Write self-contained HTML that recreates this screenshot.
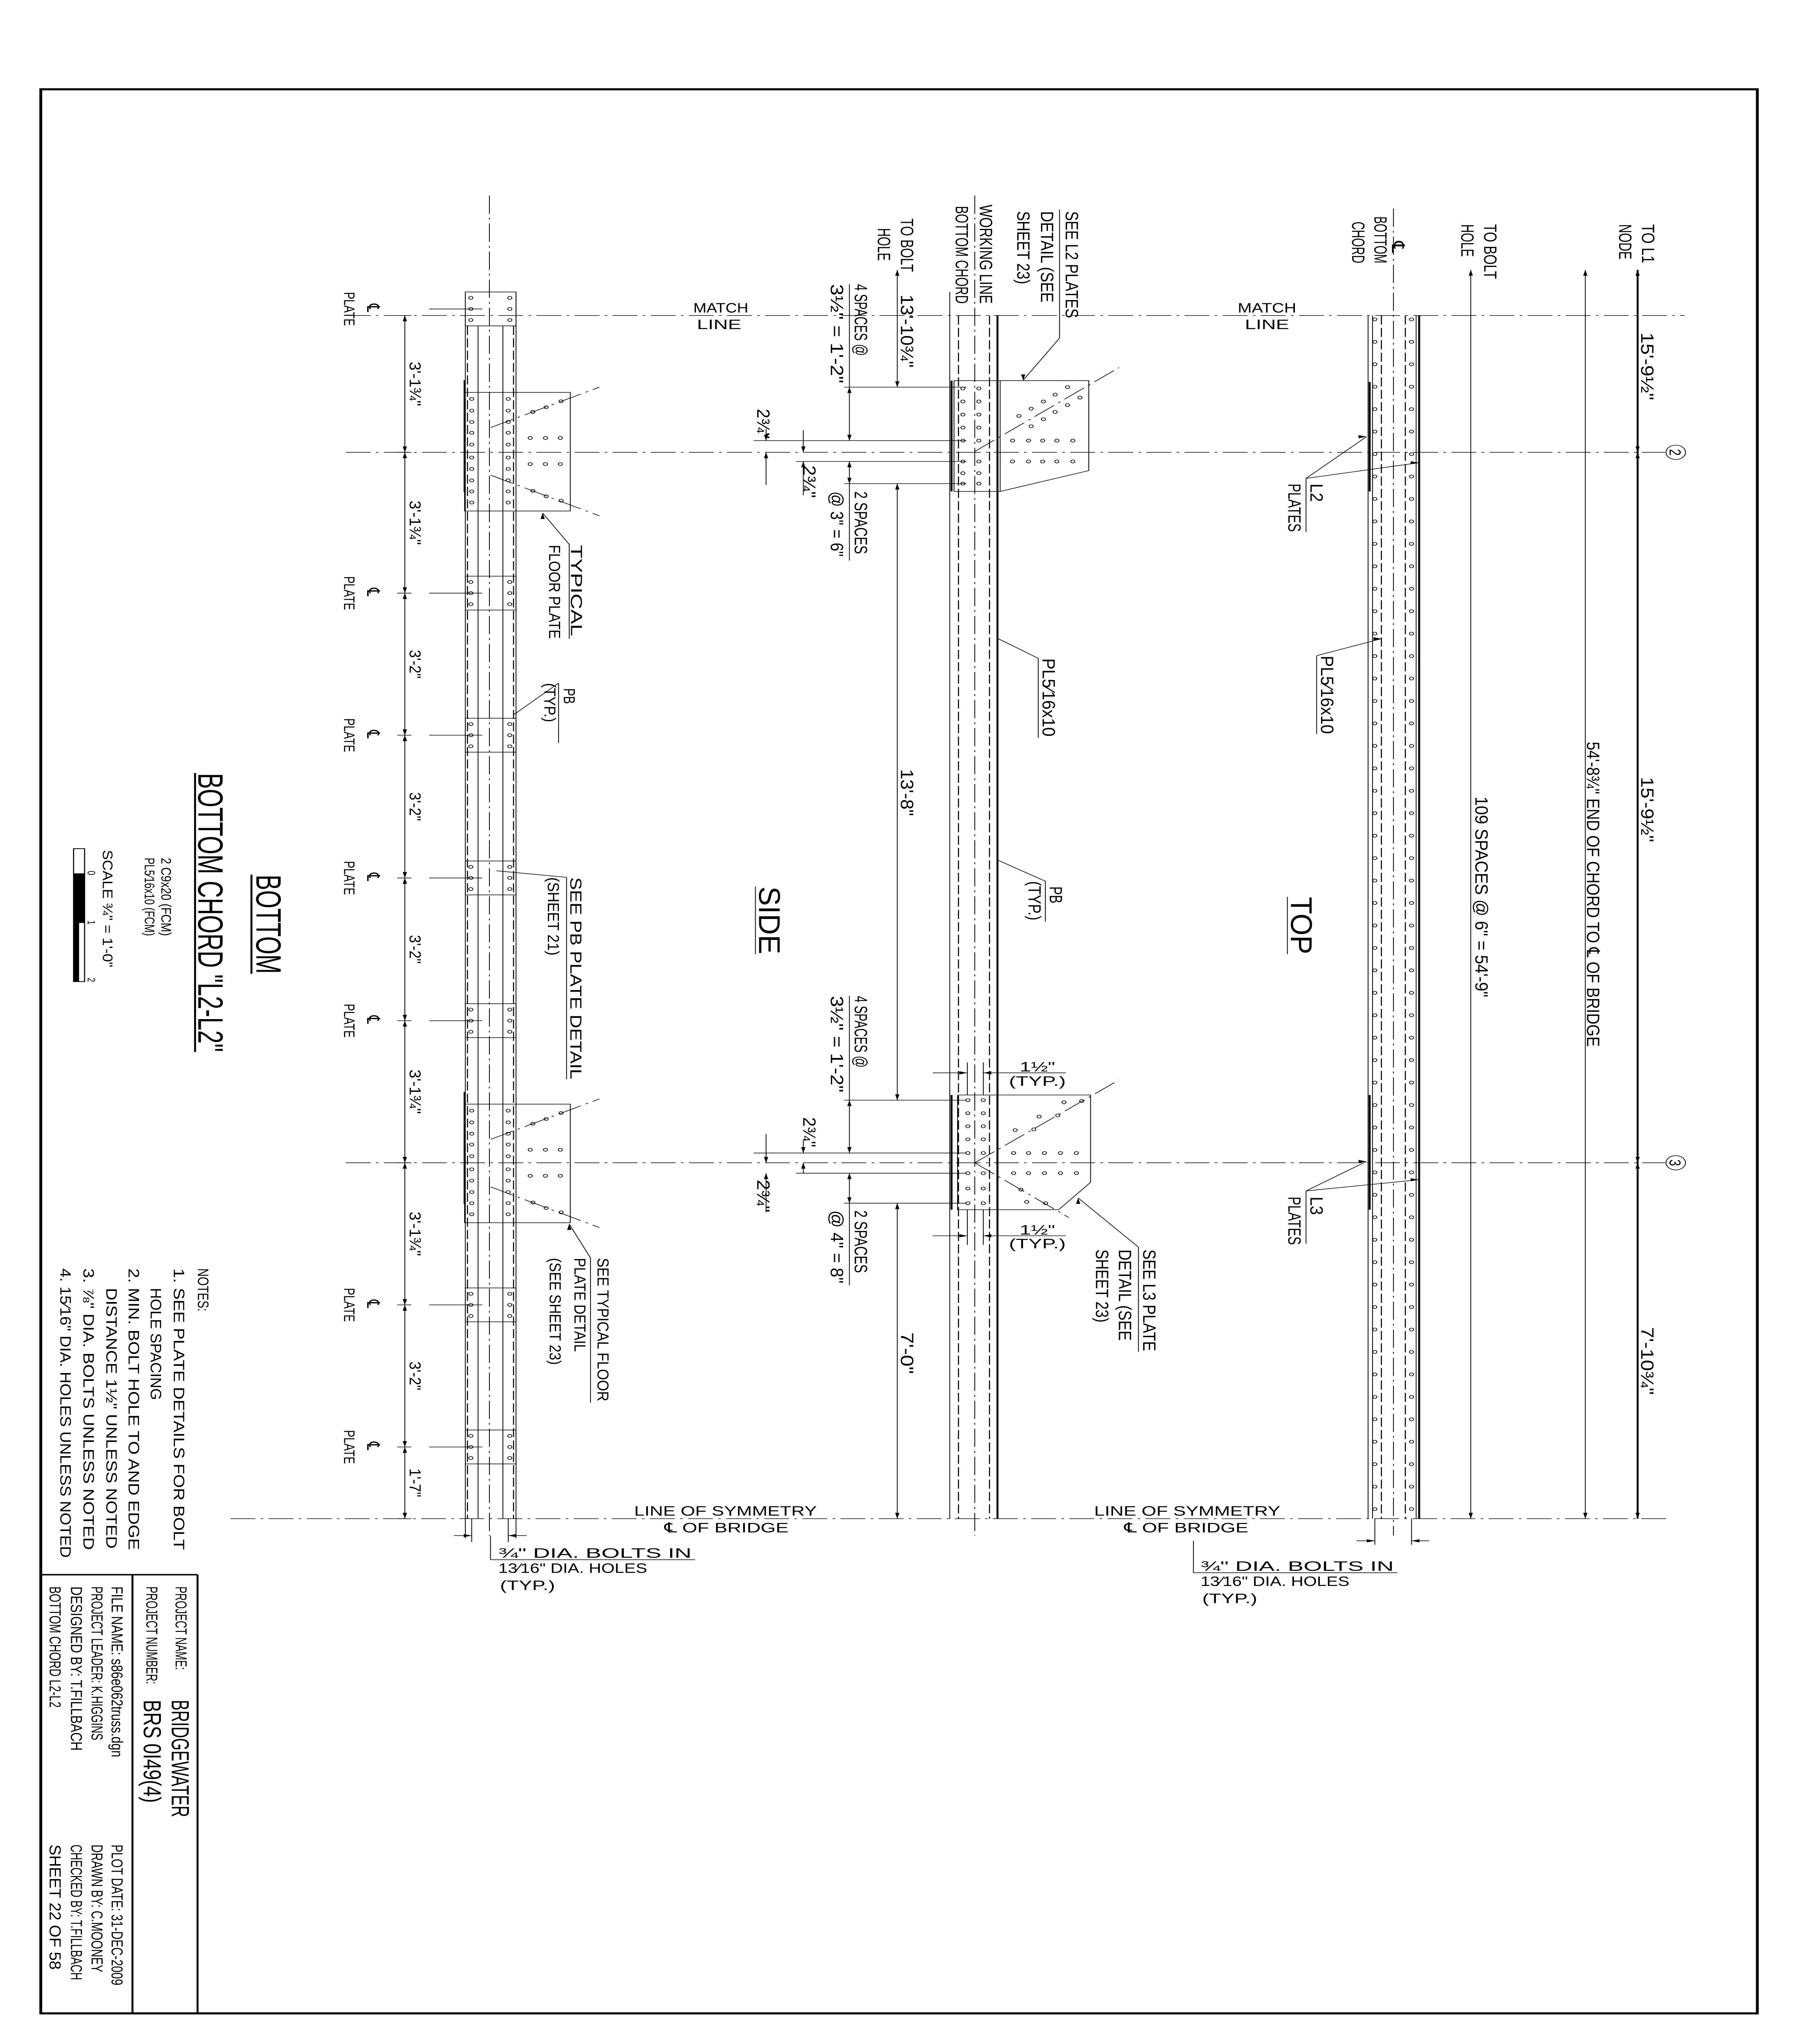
<!DOCTYPE html>
<html><head><meta charset="utf-8"><style>
html,body{margin:0;padding:0;background:#fff;width:100vw;height:100vh;overflow:hidden;}
svg{display:block;position:absolute;left:0;top:0;width:100vw;height:100vh;}
text{font-family:"Liberation Sans","DejaVu Sans",sans-serif;fill:#000;}
.s{stroke:#000;fill:none;stroke-width:0.45;}
.t{stroke:#000;fill:none;stroke-width:1.1;}
.dd{stroke:#000;fill:none;stroke-width:0.45;stroke-dasharray:14 3 1.5 3;}
.da{stroke:#000;fill:none;stroke-width:0.6;stroke-dasharray:7 2.5;}
.h{stroke:#000;fill:none;stroke-width:0.45;}
</style></head><body>
<svg id="d" viewBox="0 0 1014.5 1568" preserveAspectRatio="none" xmlns="http://www.w3.org/2000/svg">
<rect x="0" y="0" width="1014.5" height="1568" fill="#fff"/>
<rect x="23" y="68.5" width="968" height="1476" fill="none" stroke="#000" stroke-width="1.6"/>
<line x1="23" y1="1208" x2="111.4" y2="1208" class="t"/>
<line x1="111.4" y1="1208" x2="111.4" y2="1544.5" class="t"/>
<line x1="74.7" y1="1208" x2="74.7" y2="1544.5" class="t"/>
<g id="g"></g>

<g font-size="9">
<text transform="translate(99 1217) rotate(90)" textLength="64" lengthAdjust="spacingAndGlyphs">PROJECT NAME:</text>
<text transform="translate(96.8 1304) rotate(90)" font-size="14" textLength="90" lengthAdjust="spacingAndGlyphs">BRIDGEWATER</text>
<text transform="translate(82.5 1217) rotate(90)" textLength="75" lengthAdjust="spacingAndGlyphs">PROJECT NUMBER:</text>
<text transform="translate(81 1304) rotate(90)" font-size="14" textLength="79" lengthAdjust="spacingAndGlyphs">BRS 0I49(4)</text>
<text transform="translate(63 1217) rotate(90)" textLength="131" lengthAdjust="spacingAndGlyphs">FILE NAME: s86e062truss.dgn</text>
<text transform="translate(51.6 1217) rotate(90)" textLength="118" lengthAdjust="spacingAndGlyphs">PROJECT LEADER: K.HIGGINS</text>
<text transform="translate(40 1217) rotate(90)" textLength="126" lengthAdjust="spacingAndGlyphs">DESIGNED BY:    T.FILLBACH</text>
<text transform="translate(28 1217) rotate(90)" textLength="93" lengthAdjust="spacingAndGlyphs">BOTTOM CHORD L2-L2</text>
<text transform="translate(63 1415) rotate(90)" textLength="108" lengthAdjust="spacingAndGlyphs">PLOT DATE: 31-DEC-2009</text>
<text transform="translate(51.6 1415) rotate(90)" textLength="98" lengthAdjust="spacingAndGlyphs">DRAWN BY:  C.MOONEY</text>
<text transform="translate(40 1415) rotate(90)" textLength="104" lengthAdjust="spacingAndGlyphs">CHECKED BY: T.FILLBACH</text>
<text transform="translate(28 1415) rotate(90)" textLength="96" lengthAdjust="spacingAndGlyphs">SHEET    22    OF    58</text>
</g>

<text transform="translate(144.6 671) rotate(90)" font-size="20" textLength="76" lengthAdjust="spacingAndGlyphs">BOTTOM</text>
<line x1="141.8" y1="671" x2="141.8" y2="747" class="t"/>
<text transform="translate(111.8 593) rotate(90)" font-size="20" textLength="214" lengthAdjust="spacingAndGlyphs">BOTTOM CHORD "L2-L2"</text>
<line x1="110" y1="593" x2="110" y2="807" class="t"/>
<text transform="translate(91 658) rotate(90)" font-size="8" textLength="60" lengthAdjust="spacingAndGlyphs">2 C9x20   (FCM)</text>
<text transform="translate(81.6 658) rotate(90)" font-size="8" textLength="60" lengthAdjust="spacingAndGlyphs">PL5⁄16x10  (FCM)</text>
<text transform="translate(58 652) rotate(90)" font-size="8" textLength="90" lengthAdjust="spacingAndGlyphs">SCALE ¾" = 1'-0"</text>
<rect x="41.5" y="651" width="6.2" height="102" fill="none" stroke="#000" stroke-width="0.6"/>
<rect x="41.5" y="670" width="6.2" height="38" fill="#000"/>
<rect x="41.5" y="708" width="3.1" height="45" fill="#000"/>
<text transform="translate(49.5 668) rotate(90)" font-size="6">0</text>
<text transform="translate(49.5 706) rotate(90)" font-size="6">1</text>
<text transform="translate(49.5 750) rotate(90)" font-size="6">2</text>

<g font-size="8.5">
<text transform="translate(111.6 973) rotate(90)" textLength="33" lengthAdjust="spacingAndGlyphs">NOTES:</text>
<text transform="translate(98 973) rotate(90)" textLength="216" lengthAdjust="spacingAndGlyphs">1.   SEE PLATE DETAILS FOR BOLT</text>
<text transform="translate(85 988) rotate(90)" textLength="86" lengthAdjust="spacingAndGlyphs">HOLE SPACING</text>
<text transform="translate(72.5 973) rotate(90)" textLength="216" lengthAdjust="spacingAndGlyphs">2.   MIN. BOLT HOLE TO AND EDGE</text>
<text transform="translate(60 988) rotate(90)" textLength="200" lengthAdjust="spacingAndGlyphs">DISTANCE 1½" UNLESS NOTED</text>
<text transform="translate(47 973) rotate(90)" textLength="216" lengthAdjust="spacingAndGlyphs">3.   ⅞" DIA. BOLTS UNLESS NOTED</text>
<text transform="translate(34 973) rotate(90)" textLength="222" lengthAdjust="spacingAndGlyphs">4.   15⁄16" DIA. HOLES UNLESS NOTED</text>
</g>

<g font-size="9">
<text transform="translate(322 418) rotate(90)" textLength="70" lengthAdjust="spacingAndGlyphs">TYPICAL</text>
<text transform="translate(309.6 418) rotate(90)" textLength="72" lengthAdjust="spacingAndGlyphs">FLOOR PLATE</text>
<text transform="translate(318 528) rotate(90)" textLength="12" lengthAdjust="spacingAndGlyphs">PB</text>
<text transform="translate(307 524) rotate(90)" textLength="30" lengthAdjust="spacingAndGlyphs">(TYP.)</text>
<text transform="translate(321.7 673) rotate(90)" textLength="155" lengthAdjust="spacingAndGlyphs">SEE PB PLATE DETAIL</text>
<text transform="translate(309 673) rotate(90)" textLength="60" lengthAdjust="spacingAndGlyphs">(SHEET 21)</text>
<text transform="translate(337 965) rotate(90)" textLength="110" lengthAdjust="spacingAndGlyphs">SEE TYPICAL FLOOR</text>
<text transform="translate(324 965) rotate(90)" textLength="72" lengthAdjust="spacingAndGlyphs">PLATE DETAIL</text>
<text transform="translate(310 965) rotate(90)" textLength="82" lengthAdjust="spacingAndGlyphs">(SEE SHEET 23)</text>
</g>
<g id="pl" font-size="8.5"></g>
<g id="ld" font-size="9"></g>

<g font-size="10">
<text transform="translate(601 162) rotate(90)" textLength="82" lengthAdjust="spacingAndGlyphs">SEE L2 PLATES</text>
<text transform="translate(587 162) rotate(90)" textLength="70" lengthAdjust="spacingAndGlyphs">DETAIL (SEE</text>
<text transform="translate(573.7 162) rotate(90)" textLength="56" lengthAdjust="spacingAndGlyphs">SHEET 23)</text>
<text transform="translate(552.5 157) rotate(90)" textLength="76" lengthAdjust="spacingAndGlyphs">WORKING LINE</text>
<text transform="translate(539 158) rotate(90)" textLength="75" lengthAdjust="spacingAndGlyphs">BOTTOM CHORD</text>
<text transform="translate(508 167.6) rotate(90)" textLength="41" lengthAdjust="spacingAndGlyphs">TO BOLT</text>
<text transform="translate(495 175) rotate(90)" textLength="25" lengthAdjust="spacingAndGlyphs">HOLE</text>
<text transform="translate(508 226) rotate(90)" textLength="56" lengthAdjust="spacingAndGlyphs">13'-10¾"</text>
<text transform="translate(482 218) rotate(90)" textLength="55" lengthAdjust="spacingAndGlyphs">4 SPACES @</text>
<text transform="translate(468.5 218) rotate(90)" textLength="76" lengthAdjust="spacingAndGlyphs">3½" = 1'-2"</text>
<text transform="translate(482 377) rotate(90)" textLength="48" lengthAdjust="spacingAndGlyphs">2 SPACES</text>
<text transform="translate(468.5 377) rotate(90)" textLength="50" lengthAdjust="spacingAndGlyphs">@ 3" = 6"</text>
<text transform="translate(482 764) rotate(90)" textLength="55" lengthAdjust="spacingAndGlyphs">4 SPACES @</text>
<text transform="translate(468.5 764) rotate(90)" textLength="74" lengthAdjust="spacingAndGlyphs">3½" = 1'-2"</text>
<text transform="translate(482 928.5) rotate(90)" textLength="48" lengthAdjust="spacingAndGlyphs">2 SPACES</text>
<text transform="translate(468.5 928.5) rotate(90)" textLength="56" lengthAdjust="spacingAndGlyphs">@ 4" = 8"</text>
<text transform="translate(508 590) rotate(90)" textLength="36" lengthAdjust="spacingAndGlyphs">13'-8"</text>
<text transform="translate(508 1022) rotate(90)" textLength="32" lengthAdjust="spacingAndGlyphs">7'-0"</text>
<text transform="translate(427 313.6) rotate(90)" textLength="23" lengthAdjust="spacingAndGlyphs">2¾"</text>
<text transform="translate(453 357) rotate(90)" textLength="25" lengthAdjust="spacingAndGlyphs">2¾"</text>
<text transform="translate(453 857) rotate(90)" textLength="23" lengthAdjust="spacingAndGlyphs">2¾"</text>
<text transform="translate(427 905) rotate(90)" textLength="25" lengthAdjust="spacingAndGlyphs">2¾"</text>
<text transform="translate(644.7 958.5) rotate(90)" textLength="78" lengthAdjust="spacingAndGlyphs">SEE L3 PLATE</text>
<text transform="translate(631 958.5) rotate(90)" textLength="70" lengthAdjust="spacingAndGlyphs">DETAIL (SEE</text>
<text transform="translate(618 958.5) rotate(90)" textLength="56" lengthAdjust="spacingAndGlyphs">SHEET 23)</text>
<text transform="translate(588 505) rotate(90)" textLength="60" lengthAdjust="spacingAndGlyphs">PL5⁄16x10</text>
<text transform="translate(592 680) rotate(90)" textLength="13" lengthAdjust="spacingAndGlyphs">PB</text>
<text transform="translate(580 676) rotate(90)" textLength="30" lengthAdjust="spacingAndGlyphs">(TYP.)</text>
<text transform="translate(428 680) rotate(90)" font-size="17" textLength="52" lengthAdjust="spacingAndGlyphs">SIDE</text>
<text transform="translate(775 166) rotate(90)" textLength="36" lengthAdjust="spacingAndGlyphs">BOTTOM</text>
<text transform="translate(762.5 170) rotate(90)" textLength="32" lengthAdjust="spacingAndGlyphs">CHORD</text>
<text transform="translate(785 185) rotate(90)" textLength="9" lengthAdjust="spacingAndGlyphs">℄</text>
<text transform="translate(837 172) rotate(90)" textLength="42" lengthAdjust="spacingAndGlyphs">TO BOLT</text>
<text transform="translate(824 172) rotate(90)" textLength="25" lengthAdjust="spacingAndGlyphs">HOLE</text>
<text transform="translate(926 172) rotate(90)" textLength="30" lengthAdjust="spacingAndGlyphs">TO L1</text>
<text transform="translate(913 172) rotate(90)" textLength="27" lengthAdjust="spacingAndGlyphs">NODE</text>
<text transform="translate(925.5 255) rotate(90)" textLength="52" lengthAdjust="spacingAndGlyphs">15'-9½"</text>
<text transform="translate(925.5 596) rotate(90)" textLength="50" lengthAdjust="spacingAndGlyphs">15'-9½"</text>
<text transform="translate(925.5 1018) rotate(90)" textLength="52" lengthAdjust="spacingAndGlyphs">7'-10¾"</text>
<text transform="translate(895 569) rotate(90)" textLength="234" lengthAdjust="spacingAndGlyphs">54'-8¾" END OF CHORD TO ℄ OF BRIDGE</text>
<text transform="translate(832 611) rotate(90)" textLength="154" lengthAdjust="spacingAndGlyphs">109 SPACES @ 6" = 54'-9"</text>
<text transform="translate(745 503) rotate(90)" textLength="60" lengthAdjust="spacingAndGlyphs">PL5⁄16x10</text>
<text transform="translate(739 371) rotate(90)" textLength="14" lengthAdjust="spacingAndGlyphs">L2</text>
<text transform="translate(726.5 371) rotate(90)" textLength="37" lengthAdjust="spacingAndGlyphs">PLATES</text>
<text transform="translate(739 918) rotate(90)" textLength="14" lengthAdjust="spacingAndGlyphs">L3</text>
<text transform="translate(726.5 918) rotate(90)" textLength="37" lengthAdjust="spacingAndGlyphs">PLATES</text>
<text transform="translate(728 688) rotate(90)" font-size="17" textLength="44" lengthAdjust="spacingAndGlyphs">TOP</text>
</g>
<circle cx="945" cy="347" r="5.5" class="s"/>
<text x="945" y="350.5" font-size="9" text-anchor="middle" transform="rotate(90 945 347)">2</text>
<circle cx="945" cy="892" r="5.5" class="s"/>
<text x="945" y="895.5" font-size="9" text-anchor="middle" transform="rotate(90 945 892)">3</text>

<g font-size="10.5">
<text x="391" y="239.8" textLength="31" lengthAdjust="spacingAndGlyphs">MATCH</text>
<text x="393" y="252.5" textLength="25" lengthAdjust="spacingAndGlyphs">LINE</text>
<text x="698" y="239.8" textLength="33" lengthAdjust="spacingAndGlyphs">MATCH</text>
<text x="702" y="252.5" textLength="25" lengthAdjust="spacingAndGlyphs">LINE</text>
<text x="357.6" y="1162.7" textLength="103" lengthAdjust="spacingAndGlyphs">LINE OF SYMMETRY</text>
<text x="374.7" y="1175.5" textLength="70" lengthAdjust="spacingAndGlyphs">℄ OF BRIDGE</text>
<text x="617" y="1162.7" textLength="105" lengthAdjust="spacingAndGlyphs">LINE OF SYMMETRY</text>
<text x="634" y="1175.5" textLength="70" lengthAdjust="spacingAndGlyphs">℄ OF BRIDGE</text>
<text x="281" y="1195" textLength="109" lengthAdjust="spacingAndGlyphs">¾" DIA. BOLTS IN</text>
<text x="281" y="1206.6" textLength="84" lengthAdjust="spacingAndGlyphs">13⁄16" DIA. HOLES</text>
<text x="282" y="1219.8" textLength="31" lengthAdjust="spacingAndGlyphs">(TYP.)</text>
<text x="677" y="1205" textLength="109" lengthAdjust="spacingAndGlyphs">¾" DIA. BOLTS IN</text>
<text x="677" y="1216.6" textLength="84" lengthAdjust="spacingAndGlyphs">13⁄16" DIA. HOLES</text>
<text x="678" y="1229.8" textLength="31" lengthAdjust="spacingAndGlyphs">(TYP.)</text>
<text x="575" y="822" textLength="20" lengthAdjust="spacingAndGlyphs">1½"</text>
<text x="569" y="833" textLength="32" lengthAdjust="spacingAndGlyphs">(TYP.)</text>
<text x="575" y="947" textLength="20" lengthAdjust="spacingAndGlyphs">1½"</text>
<text x="569" y="957.5" textLength="32" lengthAdjust="spacingAndGlyphs">(TYP.)</text>
</g>
</svg>
<script>
(function(){
var NS="http://www.w3.org/2000/svg",g=document.getElementById('g');
function el(t,a){var e=document.createElementNS(NS,t);for(var k in a)e.setAttribute(k,a[k]);g.appendChild(e);return e;}
function L(x1,y1,x2,y2,c){return el('line',{x1:x1,y1:y1,x2:x2,y2:y2,'class':c||'s'});}
function H(x,y){el('circle',{cx:x,cy:y,r:1.15,'class':'h'});}
function P(pts,c){el('polyline',{points:pts,'class':c||'s'});}
function A(x,y,dir){
 var w=1.2,l=4.5,p;
 if(dir=='u')p=[x,y,x-w,y+l,x+w,y+l];if(dir=='d')p=[x,y,x-w,y-l,x+w,y-l];
 if(dir=='l')p=[x,y,x+l,y-w,x+l,y+w];if(dir=='r')p=[x,y,x-l,y-w,x-l,y+w];
 el('polygon',{points:p.join(','),fill:'#000'});}
L(195,242,950,242,'dd');L(195,347,939,347,'dd');L(195,892,939,892,'dd');L(130,1165,940,1165,'dd');
L(262.4,224,262.4,1180);L(263.6,250,263.6,1165,'da');L(269.6,250,269.6,1165);
L(276,150,276,1178,'dd');L(283.6,250,283.6,1165);L(289.6,250,289.6,1165,'da');L(291,224,291,1180);
var pbs=[237,455,564,673.5,783,1001,1110];
pbs.forEach(function(c){el('rect',{x:262.4,y:c-13,width:28.6,height:26,'class':'s'});
 [-8.5,0,8.5].forEach(function(d){H(265.5,c+d);H(287.5,c+d);});
 L(242,c,272,c);});
[0,546].forEach(function(o){
 el('rect',{x:262,y:301+o,width:59.6,height:91,'class':'s'});
 L(262,291.7+o,262,377.5+o,'t');
 [306,315,323.7,332,341,351,359.7,368.5,377,385.5].forEach(function(y){H(266,y+o);H(286.6,y+o);});
 [299,307.6,316].forEach(function(x){H(x,336+o);H(x,356+o);});
 H(300.5,316+o);H(308,312.4+o);H(316.4,307.8+o);H(300.5,376.5+o);H(308,380.7+o);H(316.4,384+o);
 L(276.7,328+o,338,297+o,'dd');L(276.7,364.5+o,338,395.7+o,'dd');});
var ld=[242,347,455,564,673.5,783,892,1001,1110,1165];
L(228.3,242,228.3,1165);
ld.forEach(function(y,i){L(224,y,232,y);if(i>0)A(228.3,y,'d');if(i<ld.length-1)A(228.3,y,'u');});
var lbl=['3\'-1¾"','3\'-1¾"','3\'-2"','3\'-2"','3\'-2"','3\'-1¾"','3\'-1¾"','3\'-2"','1\'-7"'];
var ldg=document.getElementById('ld');
for(var i=0;i<9;i++){var m=(ld[i]+ld[i+1])/2,len=lbl[i].length>5?34:22;
 var t=document.createElementNS(NS,'text');t.setAttribute('transform','translate(231 '+(m-len/2)+') rotate(90)');
 t.setAttribute('textLength',len);t.setAttribute('lengthAdjust','spacingAndGlyphs');t.textContent=lbl[i];ldg.appendChild(t);}
var plg=document.getElementById('pl');
pbs.forEach(function(c){var t=document.createElementNS(NS,'text');t.setAttribute('transform','translate(194 '+(c-13)+') rotate(90)');
 t.setAttribute('textLength',26);t.setAttribute('lengthAdjust','spacingAndGlyphs');t.textContent='PLATE';plg.appendChild(t);
 t=document.createElementNS(NS,'text');t.setAttribute('transform','translate(207 '+(c-4)+') rotate(90)');t.setAttribute('font-size','10');t.textContent='℄';plg.appendChild(t);});
L(321,417.6,306,393.6);A(306,393.6,'u');L(321,417,321,490);
L(315,524,315,570);L(315,524,290,548);
L(319.5,673,319.5,828);L(319.5,673,280,668);
L(333,965,333,1076);L(333,965,321,939);A(321,939,'u');
L(266,1165,266,1183);L(286.6,1165,286.6,1183);L(256,1178,266,1178);A(266,1178,'r');L(286.6,1178,297,1178);A(286.6,1178,'l');
L(276.6,1178,276.6,1196.5);L(276.6,1196.5,392,1196.5);
L(535.6,224,535.6,1165);L(536.6,292,536.6,377,'t');L(536.6,840,536.6,928,'t');
L(540.5,242,540.5,1165,'da');L(549.7,150,549.7,1178,'dd');L(558,242,558,1165,'da');
L(562.5,242,562.5,1165,'t');
el('rect',{x:538,y:292,width:26,height:85,'class':'s'});
P('564,292 614,292 614,361 564,377');
[298,308,318,328,338,354,363,371].forEach(function(y){H(543,y);H(552,y);});
[571,580,588,596,605].forEach(function(x){H(x,338);H(x,354);});
[[574.6,319],[581.5,313.5],[588.4,308],[595,302.7],[602,297],[581.5,327],[588.4,321.6],[595,316],[602,310.8],[609,305]].forEach(function(p){H(p[0],p[1]);});
L(549.7,346.3,631,282,'dd');
P('540,840 615,840 615,907 597,928 540,928 540,840');
[844,854,864,874,884.5,900,911.7,923].forEach(function(y){H(545.8,y);H(554.5,y);});
[571.6,580,589,598,607].forEach(function(x){H(x,884.5);H(x,900);});
[[572.5,867],[586,856.6],[600,845.6],[583,866.4],[596.5,855.7],[610,844.6],[575.7,912.6],[579,922],[589.6,923]].forEach(function(p){H(p[0],p[1]);});
L(549.7,892,631,828.5,'dd');L(549.7,892,602.7,934,'dd');
L(562.5,840,562.5,928,'t');
L(506,207,506,297);A(506,207,'u');A(506,297,'d');
L(506,371,506,844);A(506,371,'u');A(506,844,'d');
L(506,923,506,1165);A(506,923,'u');A(506,1165,'d');
L(479,297,479,338);A(479,297,'u');A(479,338,'d');L(479,218,479,297);
L(479,354,479,371);A(479,354,'u');A(479,371,'d');L(479,371,479,430);
L(479,844,479,884.5);A(479,844,'u');A(479,884.5,'d');L(479,764,479,844);
L(479,900,479,923);A(479,900,'u');A(479,923,'d');L(479,923,479,986);
[[297,476],[338,425],[354,449],[371,476],[844,476],[884.5,425],[900,449],[923,476]].forEach(function(p){L(p[1],p[0],545,p[0]);});
L(432,329,432,338);A(432,338,'d');L(432,347,432,372);A(432,347,'u');
L(453,330,453,347);A(453,347,'d');L(453,354,453,380);A(453,354,'u');
L(453,875,453,884.5);A(453,884.5,'d');L(453,892,453,900);A(453,892,'u');
L(432,870,432,892);A(432,892,'d');L(432,900,432,930);A(432,900,'u');
L(526,823,545.5,823);A(545.5,823,'r');L(554.5,823,601,823);A(554.5,823,'l');L(545.5,815,545.5,840);L(554.5,815,554.5,840);
L(526,948,545.5,948);A(545.5,948,'r');L(554.5,948,601,948);A(554.5,948,'l');L(545.5,928,545.5,955);L(554.5,928,554.5,955);
L(597.5,160.7,597.5,259.4);L(597.5,259.4,577,291.7);A(577,291.7,'d');
L(642,956.7,642,1037);L(642,956.7,608,919);A(608,919,'u');
L(585.5,505,585.5,566);L(585.5,505,563,490);
L(589.5,676,589.5,707);L(589.5,676,563,660);
L(426,680,426,732);L(726,688,726,732);
L(771.5,242,771.5,1165);L(772.4,293,772.4,377,'t');L(772.4,840,772.4,928,'t');
L(774,242,774,1165);L(779,242,779,1165,'da');L(785.8,160,785.8,1178,'dd');L(792.5,242,792.5,1165,'da');
L(798.6,242,798.6,1165);L(800.3,242,800.3,1165,'t');
for(var y=245;y<1165;y+=17.22){H(775.3,y);H(796,y);}
L(829.4,207,829.4,1165);A(829.4,207,'u');A(829.4,1165,'d');
L(894,207,894,1165);A(894,207,'u');A(894,1165,'d');
L(923.5,207,923.5,1165,'t');A(923.5,207,'u');A(923.5,347,'d');A(923.5,347,'u');A(923.5,892,'d');A(923.5,892,'u');A(923.5,1165,'d');
L(736.5,367,736.5,408);L(736.5,367,770.6,335);A(770.6,335,'r');L(736.5,367,800,355);A(800,355,'r');
L(736.5,913.6,736.5,954);L(736.5,913.6,770.6,891);A(770.6,891,'r');L(736.5,913.6,800,905);A(800,905,'r');
L(742.5,503,742.5,563);L(742.5,503,779,490);A(779,490,'r');
L(775.3,1165,775.3,1185);L(796,1165,796,1185);L(765,1182,775.3,1182);A(775.3,1182,'r');L(796,1182,806,1182);A(796,1182,'l');
L(673,1182,673,1206.5);L(673,1206.5,788,1206.5);
})();
</script>
</body></html>
